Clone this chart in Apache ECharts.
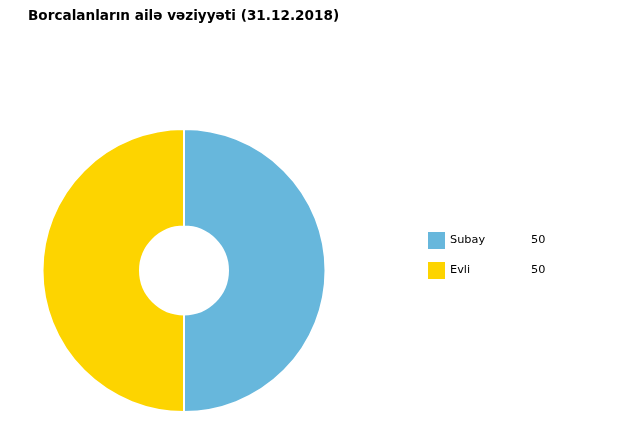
<!DOCTYPE html>
<html><head><meta charset="utf-8">
<script src="https://cdn.jsdelivr.net/npm/echarts@6/dist/echarts.min.js"></script>
<style>html,body{margin:0;padding:0;background:#fff}#c{width:620px;height:437px}</style>
</head><body><div id="c"></div>
<script>
const titleText = "Borcalanların ailə vəziyyəti (31.12.2018)";
const categories = ["Subay", "Evli"];
const values = [50, 50];
const colors = ["#67b7dc", "#fdd400"];

const chart = echarts.init(document.getElementById('c'), null, {renderer: 'canvas'});
const valMap = {};
categories.forEach((c, i) => valMap[c] = values[i]);
chart.setOption({
  animation: false,
  title: {
    text: titleText, left: 23, top: 4,
    textStyle: {fontFamily: 'DejaVu Sans', fontSize: 13.6, fontWeight: 'bold', color: '#000'}
  },
  legend: {
    orient: 'vertical', left: 428, top: 232, padding: 0,
    itemWidth: 17, itemHeight: 17, itemGap: 13, icon: 'rect',
    itemStyle: {borderWidth: 0},
    data: categories,
    formatter: n => '{n|' + n + '}{v|' + valMap[n] + '}',
    textStyle: {
      fontFamily: 'DejaVu Sans', fontSize: 11, color: '#000',
      rich: {n: {width: 81, lineHeight: 17, fontFamily: 'DejaVu Sans', fontSize: 11.3, color: '#000'},
             v: {lineHeight: 17, fontFamily: 'DejaVu Sans', fontSize: 11.3, color: '#000'}}
    }
  },
  series: [{
    type: 'pie', center: [184, 270.5], radius: [44, 141.5],
    startAngle: 90, clockwise: true,
    label: {show: false}, labelLine: {show: false},
    itemStyle: {borderColor: '#fff', borderWidth: 2},
    emphasis: {disabled: true},
    data: categories.map((c, i) => ({name: c, value: values[i], itemStyle: {color: colors[i]}}))
  }]
});
</script></body></html>
